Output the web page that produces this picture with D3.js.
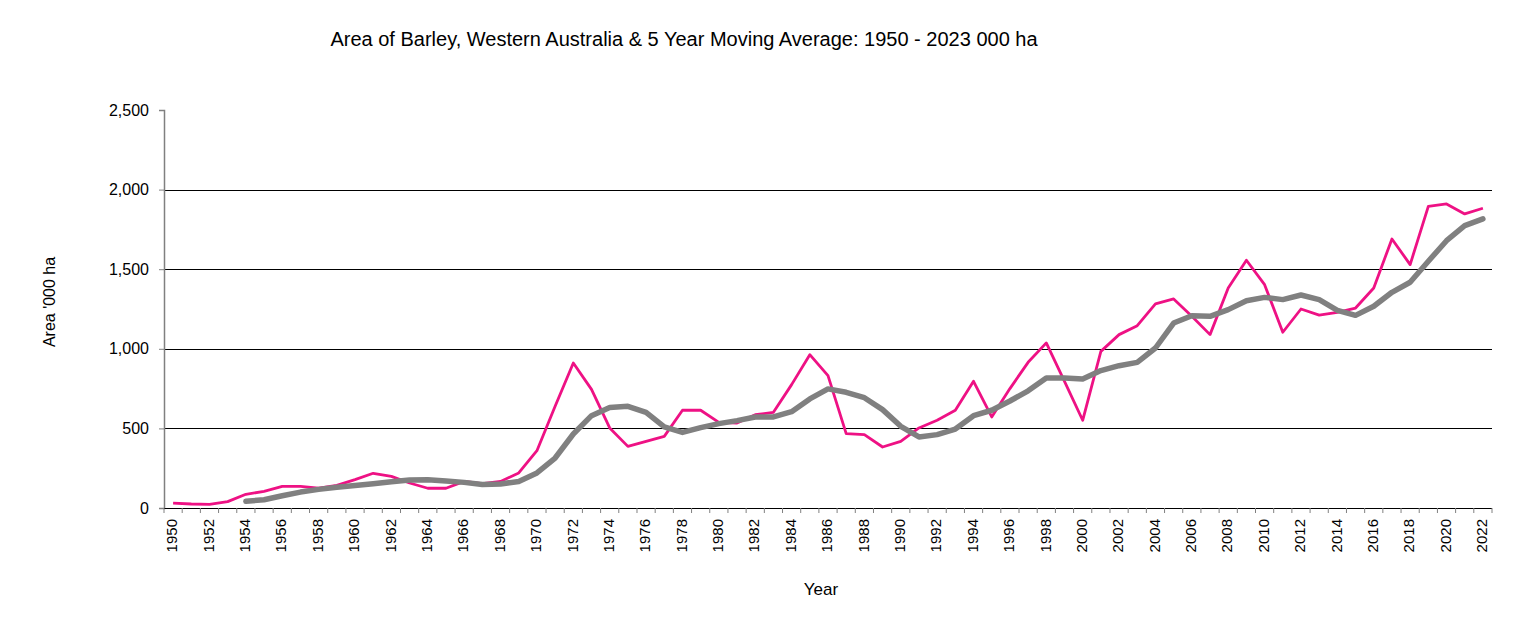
<!DOCTYPE html>
<html>
<head>
<meta charset="utf-8">
<script src="https://cdn.jsdelivr.net/npm/d3@7"></script>
<style>
  body { margin: 0; background: #fff; }
  text { font-family: "Liberation Sans", Arial, sans-serif; fill: #000; }
</style>
</head>
<body>
<div id="chart"></div>
<script>
// Years on the category axis
const years = d3.range(1950, 2023);

// Barley area, '000 ha
const area = [
  31, 25, 23, 40, 86, 105, 136, 136, 125, 142,
  178, 218, 199, 157, 124, 124, 167, 153, 167, 220,
  360, 639, 911, 745, 503, 387, 419, 450, 614, 614,
  538, 534, 586, 601, 775, 963, 831, 467, 461, 383,
  419, 503, 551, 614, 796, 572, 750, 915, 1037, 796,
  551, 984, 1089, 1145, 1282, 1313, 1204, 1089, 1382, 1556,
  1403, 1104, 1250, 1212, 1229, 1256, 1382, 1690, 1529, 1895,
  1910, 1847, 1883
];

// 5 year moving average, starts 1954
const movingAvg = [
  null, null, null, null, 42, 52, 77, 100, 117, 130,
  142, 153, 165, 176, 178, 170, 161, 147, 151, 167,
  220, 314, 465, 580, 632, 639, 601, 509, 475, 505,
  530, 549, 572, 572, 605, 685, 748, 727, 693, 618,
  513, 446, 461, 496, 580, 614, 672, 736, 817, 817,
  810, 863, 894, 915, 1005, 1162, 1208, 1204, 1246, 1302,
  1323, 1309, 1338, 1309, 1242, 1210, 1267, 1355, 1418, 1550,
  1679, 1774, 1816
];

const yTicks = [0, 500, 1000, 1500, 2000, 2500];

const W = 1522, H = 639;
const margin = { top: 110, right: 30, bottom: 131, left: 164 };
const width = 1492 - margin.left;
const height = H - margin.top - margin.bottom;

const svg = d3.select("#chart").append("svg")
  .attr("width", W)
  .attr("height", H);

const g = svg.append("g")
  .attr("transform", `translate(${margin.left},${margin.top})`);

// Scales
const x = d3.scaleBand()
  .domain(years)
  .range([0, width]);

const y = d3.scaleLinear()
  .domain([0, 2500])
  .range([height, 0]);

// Gridlines (none at the top value)
g.selectAll(".grid")
  .data(yTicks.filter(d => d > 0 && d < 2500))
  .enter().append("line")
  .attr("class", "grid")
  .attr("x1", 0)
  .attr("x2", width)
  .attr("y1", d => Math.round(y(d)) + 0.5)
  .attr("y2", d => Math.round(y(d)) + 0.5)
  .attr("stroke", "#000")
  .attr("stroke-width", 1);

// Y axis
const yAxis = g.append("g")
  .call(d3.axisLeft(y).tickValues(yTicks).tickSize(5).tickPadding(10).tickFormat(d3.format(",")));
yAxis.select(".domain").attr("stroke", "#808080").attr("stroke-width", 1.5);
yAxis.selectAll(".tick line").attr("stroke", "#808080");
yAxis.selectAll(".tick text").style("font-size", "16px").attr("fill", "#000");

// X axis: ticks between categories, labels every second year
const xAxis = g.append("g")
  .attr("transform", `translate(0,${height})`);
xAxis.append("line")
  .attr("x1", 0).attr("x2", width)
  .attr("y1", 0.5).attr("y2", 0.5)
  .attr("stroke", "#000");
xAxis.selectAll(".xtick")
  .data(years.concat([2023]))
  .enter().append("line")
  .attr("class", "xtick")
  .attr("x1", d => d === 2023 ? width : x(d))
  .attr("x2", d => d === 2023 ? width : x(d))
  .attr("y1", 0)
  .attr("y2", 5)
  .attr("stroke", "#808080");
xAxis.selectAll(".xlabel")
  .data(years.filter(d => d % 2 === 0))
  .enter().append("text")
  .attr("class", "xlabel")
  .attr("transform", d => `translate(${x(d) + x.bandwidth() / 2 - 1},11) rotate(-90)`)
  .attr("text-anchor", "end")
  .attr("dy", "0.35em")
  .style("font-size", "15px")
  .text(d => d);

// Lines
const line = d3.line()
  .defined(d => d.v != null)
  .x(d => x(d.year) + x.bandwidth() / 2)
  .y(d => y(d.v));

g.append("path")
  .datum(years.map((year, i) => ({ year, v: area[i] })))
  .attr("fill", "none")
  .attr("stroke", "#ee1184")
  .attr("stroke-width", 2.8)
  .attr("stroke-linejoin", "round")
  .attr("d", line);

g.append("path")
  .datum(years.map((year, i) => ({ year, v: movingAvg[i] })))
  .attr("fill", "none")
  .attr("stroke", "#808080")
  .attr("stroke-width", 5.5)
  .attr("stroke-linejoin", "round")
  .attr("stroke-linecap", "round")
  .attr("d", line);

// Titles
svg.append("text")
  .attr("x", 684)
  .attr("y", 46)
  .attr("text-anchor", "middle")
  .style("font-size", "20px")
  .text("Area of Barley, Western Australia & 5 Year Moving Average: 1950 - 2023 000 ha");

svg.append("text")
  .attr("transform", "translate(55,302) rotate(-90)")
  .attr("text-anchor", "middle")
  .style("font-size", "16px")
  .text("Area '000 ha");

svg.append("text")
  .attr("x", 821)
  .attr("y", 595)
  .attr("text-anchor", "middle")
  .style("font-size", "17px")
  .text("Year");
</script>
</body>
</html>
